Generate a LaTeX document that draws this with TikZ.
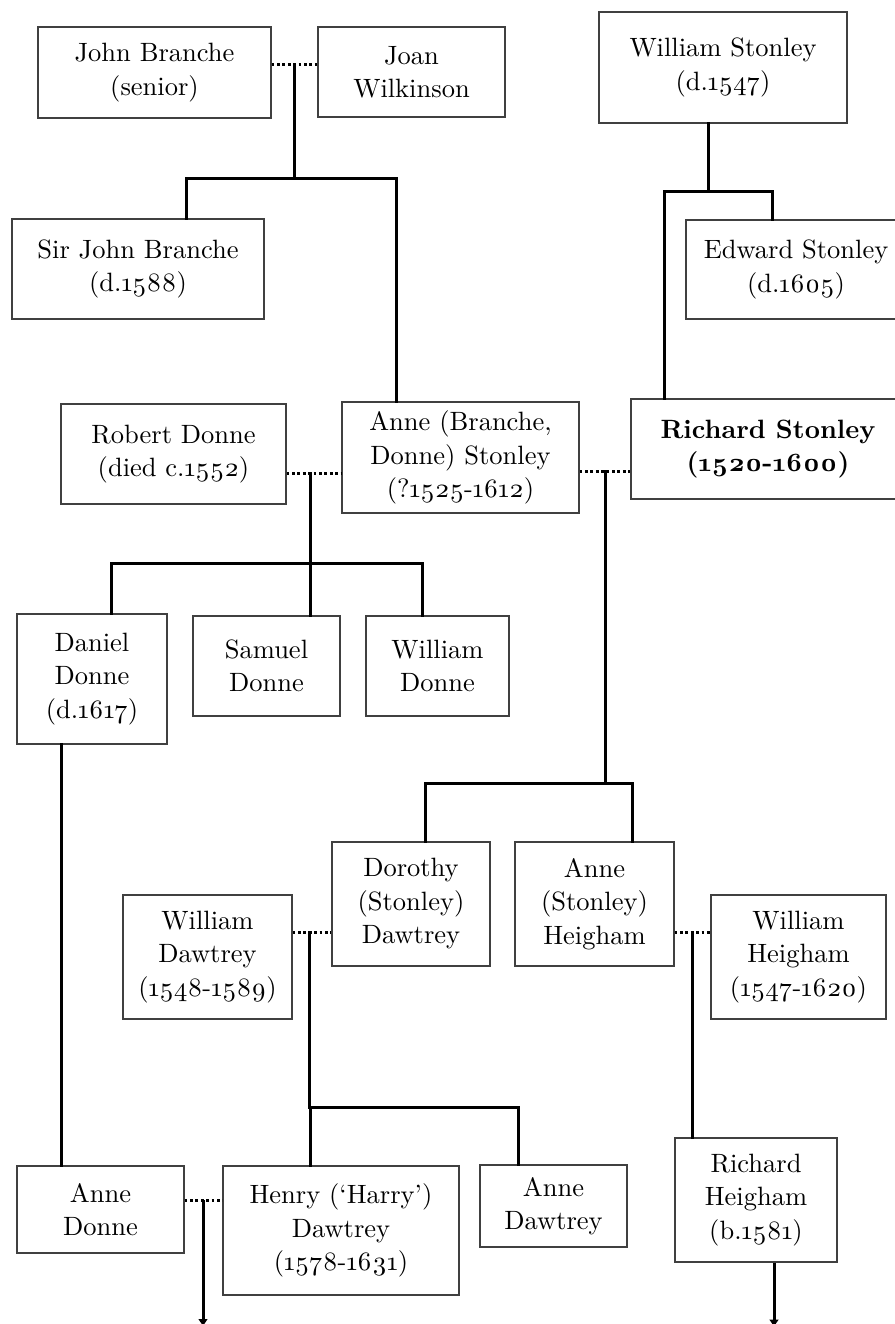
\documentclass[tikz,border=0pt]{standalone}
\usepackage{fontspec}
\setmainfont{lmroman10-regular.otf}[BoldFont=lmroman10-bold.otf]
\usetikzlibrary{arrows.meta}
\definecolor{boxgray}{gray}{0.25}
\newcommand{\os}[1]{\oldstylenums{#1}}
\begin{document}
\begin{tikzpicture}[x=1pt,y=-1pt,
  person/.style={draw=boxgray, line width=1.2pt, fill=white, inner sep=0pt,
    align=center, font=\fontsize{26.5}{33.5}\selectfont},
  fam/.style={line width=3pt, line cap=rect},
  marr/.style={line width=3pt, dash pattern=on 2.7pt off 2.7pt},
  down/.style={line width=3pt, -{Latex[length=8pt,width=10pt]}}]
\useasboundingbox (0,0) rectangle (894,1324);

% ---------- junction coordinates ----------
\coordinate (m1) at (294,65);
\coordinate (j1) at (294,179);
\coordinate (j2) at (708,192);
\coordinate (m2) at (310,473);
\coordinate (j3) at (310,563);
\coordinate (m3) at (605,471);
\coordinate (j4) at (605,783);
\coordinate (m4) at (309,932);
\coordinate (j5) at (309,1107);
\coordinate (m5) at (692,932);
\coordinate (m6) at (203,1200);
\coordinate (e1) at (203,1327);

% ---------- people ----------
\node[person, minimum width=233pt, minimum height=91pt] (jb) at (154.5,72.5) {John Branche\\(senior)};
\node[person, minimum width=187pt, minimum height=90pt] (jw) at (411.5,72) {Joan\\Wilkinson};
\node[person, minimum width=252pt, minimum height=100pt] (sjb) at (138,269) {Sir John Branche\\(d.\os{1588})};
\node[person, minimum width=248pt, minimum height=111pt] (ws) at (723,67.5) {William Stonley\\(d.\os{1547})};
\node[person, minimum width=220pt, minimum height=99pt] (es) at (796,269.5) {Edward Stonley\\(d.\os{1605})};
\node[person, minimum width=274pt, minimum height=100pt, font=\fontsize{26.5}{33.5}\selectfont\bfseries] (rs) at (768,449) {Richard Stonley\\(\os{1520}-\os{1600})};
\node[person, minimum width=225pt, minimum height=100pt] (rd) at (173.5,454) {Robert Donne\\(died c.\os{1552})};
\node[person, minimum width=237pt, minimum height=111pt] (abs) at (460.5,457.5) {Anne (Branche,\\Donne) Stonley\\(?\os{1525}-\os{1612})};
\node[person, minimum width=150pt, minimum height=130pt] (dd) at (92,679) {Daniel\\Donne\\(d.\os{1617})};
\node[person, minimum width=147pt, minimum height=100pt] (sd) at (266.5,666) {Samuel\\Donne};
\node[person, minimum width=143pt, minimum height=100pt] (wd) at (437.5,666) {William\\Donne};
\node[person, minimum width=158pt, minimum height=124pt] (dsd) at (411,904) {Dorothy\\(Stonley)\\Dawtrey};
\node[person, minimum width=159pt, minimum height=124pt] (ash) at (594.5,904) {Anne\\(Stonley)\\Heigham};
\node[person, minimum width=169pt, minimum height=124pt] (wdt) at (207.5,957) {William\\Dawtrey\\(\os{1548}-\os{1589})};
\node[person, minimum width=175pt, minimum height=124pt] (wh) at (798.5,957) {William\\Heigham\\(\os{1547}-\os{1620})};
\node[person, minimum width=167pt, minimum height=87pt] (ad) at (100.5,1209.5) {Anne\\Donne};
\node[person, minimum width=236pt, minimum height=129pt] (hd) at (341,1230.5) {Henry (`Harry')\\Dawtrey\\(\os{1578}-\os{1631})};
\node[person, minimum width=147pt, minimum height=82pt] (adt) at (553.5,1206) {Anne\\Dawtrey};
\node[person, minimum width=162pt, minimum height=124pt] (rh) at (756,1200) {Richard\\Heigham\\(b.\os{1581})};

% ---------- Branche family ----------
\draw[marr] (jb.east |- m1) -- (jw.west |- m1);
\draw[fam] (m1) -- (j1);
\draw[fam] ([xshift=48pt]sjb.north) |- (j1) -| ([xshift=-64.5pt]abs.north);

% ---------- Stonley family ----------
\draw[fam] ([xshift=-15pt]ws.south) -- (j2);
\draw[fam] ([xshift=-104pt]rs.north) |- (j2) -| ([xshift=-24pt]es.north);

% ---------- Donne marriage ----------
\draw[marr] (rd.east |- m2) -- (abs.west |- m2);
\draw[fam] (m2) -- (j3);
\draw[fam] ([xshift=19pt]dd.north) |- (j3) -| ([xshift=-15.5pt]wd.north);
\draw[fam] (j3) -- (sd.north -| j3);

% ---------- Stonley marriage ----------
\draw[marr] (abs.east |- m3) -- (rs.west |- m3);
\draw[fam] (m3) -- (j4);
\draw[fam] ([xshift=14pt]dsd.north) |- (j4) -| ([xshift=37.5pt]ash.north);

% ---------- Dawtrey marriage ----------
\draw[marr] (wdt.east |- m4) -- (dsd.west |- m4);
\draw[fam] (m4) -- (j5);
\draw[fam] ([xshift=-31pt]hd.north) |- (j5) -| ([xshift=-35.5pt]adt.north);

% ---------- Heigham marriage ----------
\draw[marr] (ash.east |- m5) -- (wh.west |- m5);
\draw[fam] (m5) -- (rh.north -| m5);

% ---------- Daniel Donne to Anne Donne ----------
\draw[fam] ([xshift=-31pt]dd.south) -- ([xshift=-31pt]dd.south |- ad.north);

% ---------- Anne Donne and Henry Dawtrey ----------
\draw[marr] (ad.east |- m6) -- (hd.west |- m6);
\draw[down] (m6) -- (e1);

% ---------- Richard Heigham descendants ----------
\draw[down] ([xshift=18pt]rh.south) -- ++(0,65);
\end{tikzpicture}
\end{document}
